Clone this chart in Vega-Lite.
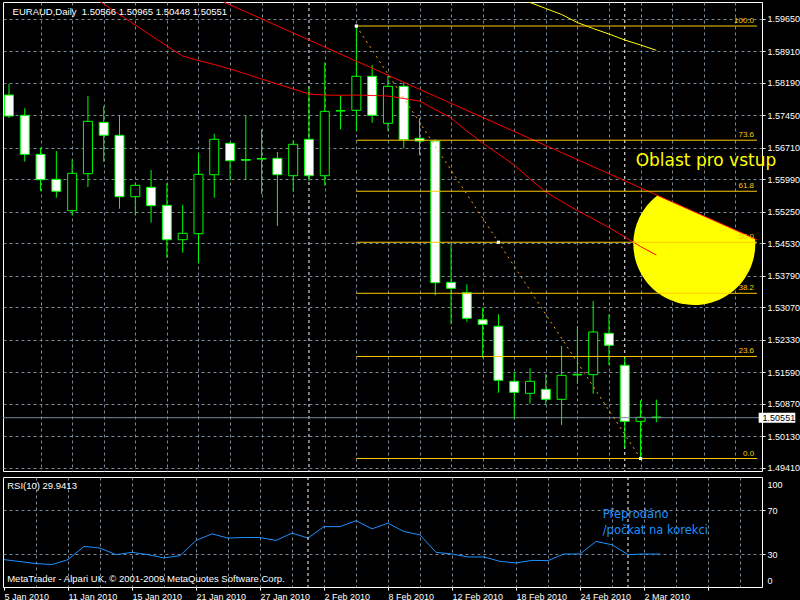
{
  "$schema": "https://vega.github.io/schema/vega-lite/v6.json",
  "background": "#000000",
  "padding": {"left": 2, "top": 1, "right": 0, "bottom": 0},
  "spacing": 2,
  "config": {
    "view": {"stroke": "#ffffff", "strokeWidth": 1},
    "axis": {"labelFont": "Liberation Sans", "labelFontSize": 9, "labelColor": "#ffffff", "tickColor": "#ffffff", "tickSize": 3, "gridColor": "#778899", "gridDash": [3, 3], "gridOpacity": 1, "domain": false, "labelOverlap": false, "labelBound": false, "tickCount": 100}
  },
  "resolve": {"scale": {"x": "independent", "y": "independent"}},
  "datasets": {
    "candles": [
      {"i": 0, "o": 1.57912, "h": 1.58163, "l": 1.57388, "c": 1.57433},
      {"i": 1, "o": 1.57449, "h": 1.57609, "l": 1.56391, "c": 1.56559},
      {"i": 2, "o": 1.56559, "h": 1.56710, "l": 1.55722, "c": 1.55980},
      {"i": 3, "o": 1.55989, "h": 1.56635, "l": 1.55569, "c": 1.55715},
      {"i": 4, "o": 1.55273, "h": 1.56445, "l": 1.55168, "c": 1.56126},
      {"i": 5, "o": 1.56117, "h": 1.57889, "l": 1.55813, "c": 1.57312},
      {"i": 6, "o": 1.57289, "h": 1.57661, "l": 1.56391, "c": 1.56993},
      {"i": 7, "o": 1.56993, "h": 1.57456, "l": 1.55318, "c": 1.55592},
      {"i": 8, "o": 1.55592, "h": 1.55912, "l": 1.55168, "c": 1.55852},
      {"i": 9, "o": 1.55807, "h": 1.56201, "l": 1.54999, "c": 1.55387},
      {"i": 10, "o": 1.55396, "h": 1.55898, "l": 1.54201, "c": 1.54611},
      {"i": 11, "o": 1.54611, "h": 1.55403, "l": 1.54315, "c": 1.54757},
      {"i": 12, "o": 1.54748, "h": 1.56582, "l": 1.54080, "c": 1.56103},
      {"i": 13, "o": 1.56094, "h": 1.57029, "l": 1.55569, "c": 1.56902},
      {"i": 14, "o": 1.56810, "h": 1.56840, "l": 1.55966, "c": 1.56413},
      {"i": 15, "o": 1.56440, "h": 1.57433, "l": 1.55980, "c": 1.56425},
      {"i": 16, "o": 1.56450, "h": 1.57130, "l": 1.55647, "c": 1.56465},
      {"i": 17, "o": 1.56468, "h": 1.56612, "l": 1.54924, "c": 1.56094},
      {"i": 18, "o": 1.56071, "h": 1.56879, "l": 1.55706, "c": 1.56788},
      {"i": 19, "o": 1.56902, "h": 1.58095, "l": 1.55950, "c": 1.56071},
      {"i": 20, "o": 1.56071, "h": 1.58649, "l": 1.55852, "c": 1.57540},
      {"i": 21, "o": 1.57545, "h": 1.57905, "l": 1.57130, "c": 1.57560},
      {"i": 22, "o": 1.57563, "h": 1.59486, "l": 1.57091, "c": 1.58339},
      {"i": 23, "o": 1.58339, "h": 1.58597, "l": 1.57280, "c": 1.57449},
      {"i": 24, "o": 1.57267, "h": 1.58346, "l": 1.57091, "c": 1.58111},
      {"i": 25, "o": 1.58111, "h": 1.58193, "l": 1.56696, "c": 1.56893},
      {"i": 26, "o": 1.56924, "h": 1.57381, "l": 1.56537, "c": 1.56863},
      {"i": 27, "o": 1.56863, "h": 1.56902, "l": 1.53343, "c": 1.53630},
      {"i": 28, "o": 1.53639, "h": 1.54506, "l": 1.52681, "c": 1.53503},
      {"i": 29, "o": 1.53402, "h": 1.53594, "l": 1.52741, "c": 1.52818},
      {"i": 30, "o": 1.52786, "h": 1.53060, "l": 1.51919, "c": 1.52681},
      {"i": 31, "o": 1.52636, "h": 1.52909, "l": 1.51121, "c": 1.51404},
      {"i": 32, "o": 1.51381, "h": 1.51593, "l": 1.50514, "c": 1.51130},
      {"i": 33, "o": 1.51107, "h": 1.51678, "l": 1.50870, "c": 1.51381},
      {"i": 34, "o": 1.51198, "h": 1.51541, "l": 1.50840, "c": 1.50970},
      {"i": 35, "o": 1.50970, "h": 1.52186, "l": 1.50384, "c": 1.51518},
      {"i": 36, "o": 1.51525, "h": 1.52643, "l": 1.51326, "c": 1.51540},
      {"i": 37, "o": 1.51532, "h": 1.53213, "l": 1.51098, "c": 1.52506},
      {"i": 38, "o": 1.52476, "h": 1.52909, "l": 1.51746, "c": 1.52202},
      {"i": 39, "o": 1.51746, "h": 1.51919, "l": 1.49866, "c": 1.50468},
      {"i": 40, "o": 1.50468, "h": 1.50948, "l": 1.49620, "c": 1.50560},
      {"i": 41, "o": 1.50566, "h": 1.50965, "l": 1.50448, "c": 1.50551}
    ],
    "ma": [
      {"i": 5, "p": 1.60228}, {"i": 6, "p": 1.59988}, {"i": 7, "p": 1.59749}, {"i": 8, "p": 1.59509},
      {"i": 9, "p": 1.59270}, {"i": 10, "p": 1.59030}, {"i": 11, "p": 1.58802}, {"i": 12, "p": 1.58699},
      {"i": 13, "p": 1.58608}, {"i": 14, "p": 1.58505}, {"i": 15, "p": 1.58396}, {"i": 16, "p": 1.58277},
      {"i": 17, "p": 1.58163}, {"i": 18, "p": 1.58049}, {"i": 19, "p": 1.57935}, {"i": 20, "p": 1.57912},
      {"i": 21, "p": 1.57905}, {"i": 22, "p": 1.57912}, {"i": 23, "p": 1.57901}, {"i": 24, "p": 1.57889},
      {"i": 25, "p": 1.57832}, {"i": 26, "p": 1.57775}, {"i": 27, "p": 1.57581}, {"i": 28, "p": 1.57388},
      {"i": 29, "p": 1.57091}, {"i": 30, "p": 1.56817}, {"i": 31, "p": 1.56566}, {"i": 32, "p": 1.56315},
      {"i": 33, "p": 1.55996}, {"i": 34, "p": 1.55699}, {"i": 35, "p": 1.55483}, {"i": 36, "p": 1.55277},
      {"i": 37, "p": 1.55083}, {"i": 38, "p": 1.54890}, {"i": 39, "p": 1.54673}, {"i": 40, "p": 1.54456},
      {"i": 41, "p": 1.54262}
    ],
    "trend": [{"i": 13, "p": 1.60131}, {"i": 47.375, "p": 1.54611}],
    "ma2": [
      {"i": 32, "p": 1.60159}, {"i": 33, "p": 1.60023}, {"i": 34, "p": 1.59886}, {"i": 35, "p": 1.59749},
      {"i": 36, "p": 1.59566}, {"i": 37, "p": 1.59429}, {"i": 38, "p": 1.59304}, {"i": 39, "p": 1.59167},
      {"i": 40, "p": 1.59053}, {"i": 41, "p": 1.58932}
    ],
    "fib": [
      {"lvl": "100.0", "p": 1.59486}, {"lvl": "73.6", "p": 1.56881}, {"lvl": "61.8", "p": 1.55717},
      {"lvl": "50.0", "p": 1.54553}, {"lvl": "38.2", "p": 1.53389}, {"lvl": "23.6", "p": 1.51948},
      {"lvl": "0.0", "p": 1.49620}
    ],
    "fibbase": [{"i": 22, "p": 1.59486}, {"i": 40, "p": 1.49620}],
    "fibpts": [{"i": 22, "p": 1.59486}, {"i": 31, "p": 1.54553}, {"i": 40, "p": 1.49620}],
    "seps": [{"i": 19}, {"i": 39}],
    "rsi": [
      {"i": 0, "r": 24.9}, {"i": 1, "r": 23.1}, {"i": 2, "r": 21.3}, {"i": 3, "r": 20.4}, {"i": 4, "r": 24.9},
      {"i": 5, "r": 36.9}, {"i": 6, "r": 35.4}, {"i": 7, "r": 29.4}, {"i": 8, "r": 31.5}, {"i": 9, "r": 29.4},
      {"i": 10, "r": 26.4}, {"i": 11, "r": 28.5}, {"i": 12, "r": 42.3}, {"i": 13, "r": 48.3}, {"i": 14, "r": 44.5},
      {"i": 15, "r": 45.0}, {"i": 16, "r": 45.0}, {"i": 17, "r": 42.3}, {"i": 18, "r": 49.0}, {"i": 19, "r": 44.5},
      {"i": 20, "r": 54.9}, {"i": 21, "r": 54.9}, {"i": 22, "r": 60.3}, {"i": 23, "r": 52.9}, {"i": 24, "r": 58.0},
      {"i": 25, "r": 50.4}, {"i": 26, "r": 47.4}, {"i": 27, "r": 31.5}, {"i": 28, "r": 30.0}, {"i": 29, "r": 27.3},
      {"i": 30, "r": 27.3}, {"i": 31, "r": 23.3}, {"i": 32, "r": 21.9}, {"i": 33, "r": 24.2}, {"i": 34, "r": 24.0},
      {"i": 35, "r": 30.0}, {"i": 36, "r": 30.0}, {"i": 37, "r": 41.4}, {"i": 38, "r": 38.4}, {"i": 39, "r": 29.4},
      {"i": 40, "r": 30.0}, {"i": 41, "r": 29.94}
    ]
  },
  "vconcat": [
    {
      "width": 759,
      "height": 469,
      "layer": [
        {
          "data": {"values": [{"i": 43.406, "p": 1.54513}]},
          "mark": {"type": "point", "shape": "M-0.6067,-0.795L0.9959,-0.0898A1,1,0,1,1,-0.6067,-0.795Z", "size": 14884, "filled": true, "fill": "#FFFF00", "strokeWidth": 0, "opacity": 1, "clip": true},
          "encoding": {
            "x": {"field": "i", "type": "quantitative", "scale": {"domain": [-0.0625, 47.375], "nice": false, "zero": false},
              "axis": {"values": [2,4,6,8,10,12,14,16,18,20,22,24,26,28,30,32,34,36,38,40,42,44,46], "tickCount": 100, "labels": false, "ticks": false, "grid": true, "domain": false, "title": null}},
            "y": {"field": "p", "type": "quantitative", "scale": {"domain": [1.49335, 1.60034], "nice": false, "zero": false},
              "axis": {"orient": "right", "values": [1.4941, 1.5013, 1.5087, 1.5159, 1.5233, 1.5307, 1.5379, 1.5453, 1.5525, 1.5599, 1.5671, 1.5745, 1.5819, 1.5891, 1.5965], "tickCount": 100, "format": ".5f", "title": null, "grid": true, "labelPadding": 2, "labelOverlap": false}}
          }
        },
        {
          "data": {"name": "seps"},
          "mark": {"type": "rule", "color": "#ffffff", "strokeDash": [3, 3], "strokeWidth": 1},
          "encoding": {"x": {"field": "i", "type": "quantitative", "scale": {"domain": [-0.0625, 47.375], "nice": false, "zero": false}}}
        },
        {
          "data": {"name": "candles"},
          "mark": {"type": "rule", "color": "#00FF00", "strokeWidth": 1, "clip": true},
          "encoding": {
            "x": {"field": "i", "type": "quantitative", "scale": {"domain": [-0.0625, 47.375], "nice": false, "zero": false}},
            "y": {"field": "l", "type": "quantitative", "scale": {"domain": [1.49335, 1.60034], "nice": false, "zero": false}},
            "y2": {"field": "h"}
          }
        },
        {
          "data": {"name": "candles"},
          "mark": {"type": "bar", "width": 9, "stroke": "#00FF00", "strokeWidth": 1, "clip": true},
          "encoding": {
            "x": {"field": "i", "type": "quantitative", "scale": {"domain": [-0.0625, 47.375], "nice": false, "zero": false}},
            "y": {"field": "o", "type": "quantitative", "scale": {"domain": [1.49335, 1.60034], "nice": false, "zero": false}},
            "y2": {"field": "c"},
            "fill": {"condition": {"test": "datum.c > datum.o", "value": "#000000"}, "value": "#ffffff"}
          }
        },
        {
          "data": {"values": [{"p": 1.50551}]},
          "mark": {"type": "rule", "color": "#778899", "strokeWidth": 1},
          "encoding": {"y": {"field": "p", "type": "quantitative", "scale": {"domain": [1.49335, 1.60034], "nice": false, "zero": false}}}
        },
        {
          "data": {"name": "ma"},
          "mark": {"type": "line", "color": "#FF0000", "strokeWidth": 1, "clip": true},
          "encoding": {
            "x": {"field": "i", "type": "quantitative", "scale": {"domain": [-0.0625, 47.375], "nice": false, "zero": false}},
            "y": {"field": "p", "type": "quantitative", "scale": {"domain": [1.49335, 1.60034], "nice": false, "zero": false}}
          }
        },
        {
          "data": {"name": "trend"},
          "mark": {"type": "line", "color": "#FF0000", "strokeWidth": 1, "clip": true},
          "encoding": {
            "x": {"field": "i", "type": "quantitative", "scale": {"domain": [-0.0625, 47.375], "nice": false, "zero": false}},
            "y": {"field": "p", "type": "quantitative", "scale": {"domain": [1.49335, 1.60034], "nice": false, "zero": false}}
          }
        },
        {
          "data": {"name": "ma2"},
          "mark": {"type": "line", "color": "#FFFF00", "strokeWidth": 1, "clip": true},
          "encoding": {
            "x": {"field": "i", "type": "quantitative", "scale": {"domain": [-0.0625, 47.375], "nice": false, "zero": false}},
            "y": {"field": "p", "type": "quantitative", "scale": {"domain": [1.49335, 1.60034], "nice": false, "zero": false}}
          }
        },
        {
          "data": {"name": "fib"},
          "mark": {"type": "rule", "color": "#FFC800", "strokeWidth": 1},
          "encoding": {
            "x": {"datum": 22, "type": "quantitative", "scale": {"domain": [-0.0625, 47.375], "nice": false, "zero": false}},
            "x2": {"datum": 47.375},
            "y": {"field": "p", "type": "quantitative", "scale": {"domain": [1.49335, 1.60034], "nice": false, "zero": false}}
          }
        },
        {
          "data": {"name": "fibbase"},
          "mark": {"type": "line", "color": "#FFA500", "strokeWidth": 1, "strokeDash": [2, 4]},
          "encoding": {
            "x": {"field": "i", "type": "quantitative", "scale": {"domain": [-0.0625, 47.375], "nice": false, "zero": false}},
            "y": {"field": "p", "type": "quantitative", "scale": {"domain": [1.49335, 1.60034], "nice": false, "zero": false}}
          }
        },
        {
          "data": {"name": "fib"},
          "mark": {"type": "text", "align": "right", "baseline": "alphabetic", "dy": -3, "font": "Liberation Sans", "fontSize": 8, "fill": "#FFC800"},
          "encoding": {
            "x": {"datum": 47.19, "type": "quantitative", "scale": {"domain": [-0.0625, 47.375], "nice": false, "zero": false}},
            "y": {"field": "p", "type": "quantitative", "scale": {"domain": [1.49335, 1.60034], "nice": false, "zero": false}},
            "text": {"field": "lvl"}
          }
        },
        {
          "data": {"name": "fibpts"},
          "mark": {"type": "point", "shape": "square", "size": 10, "filled": true, "fill": "#ffffff", "opacity": 1},
          "encoding": {
            "x": {"field": "i", "type": "quantitative", "scale": {"domain": [-0.0625, 47.375], "nice": false, "zero": false}},
            "y": {"field": "p", "type": "quantitative", "scale": {"domain": [1.49335, 1.60034], "nice": false, "zero": false}}
          }
        },
        {
          "data": {"values": [{"p": 1.50551}]},
          "mark": {"type": "rect", "fill": "#ffffff", "clip": false},
          "encoding": {
            "x": {"datum": 47.48, "type": "quantitative", "scale": {"domain": [-0.0625, 47.375], "nice": false, "zero": false}},
            "x2": {"datum": 49.8},
            "y": {"datum": 1.50665, "type": "quantitative", "scale": {"domain": [1.49335, 1.60034], "nice": false, "zero": false}},
            "y2": {"datum": 1.50437}
          }
        },
        {
          "data": {"values": [{"p": 1.50551, "t": "1.50551"}]},
          "mark": {"type": "text", "align": "left", "baseline": "middle", "font": "Liberation Sans", "fontSize": 9, "fill": "#000000"},
          "encoding": {
            "x": {"datum": 47.73, "type": "quantitative", "scale": {"domain": [-0.0625, 47.375], "nice": false, "zero": false}},
            "y": {"field": "p", "type": "quantitative", "scale": {"domain": [1.49335, 1.60034], "nice": false, "zero": false}},
            "text": {"field": "t"}
          }
        },
        {
          "data": {"values": [{"t": "EURAUD,Daily\u00a0\u00a01.50566 1.50965 1.50448 1.50551"}]},
          "mark": {"type": "text", "align": "left", "baseline": "middle", "font": "Liberation Sans", "fontSize": 9.5, "fill": "#ffffff"},
          "encoding": {
            "x": {"datum": 0.23, "type": "quantitative", "scale": {"domain": [-0.0625, 47.375], "nice": false, "zero": false}},
            "y": {"datum": 1.59812, "type": "quantitative", "scale": {"domain": [1.49335, 1.60034], "nice": false, "zero": false}},
            "text": {"field": "t"}
          }
        },
        {
          "data": {"values": [{"t": "Oblast pro vstup"}]},
          "mark": {"type": "text", "align": "left", "baseline": "alphabetic", "font": "DejaVu Sans", "fontSize": 17, "fill": "#FFFF00"},
          "encoding": {
            "x": {"datum": 39.69, "type": "quantitative", "scale": {"domain": [-0.0625, 47.375], "nice": false, "zero": false}},
            "y": {"datum": 1.56300, "type": "quantitative", "scale": {"domain": [1.49335, 1.60034], "nice": false, "zero": false}},
            "text": {"field": "t"}
          }
        }
      ]
    },
    {
      "width": 759,
      "height": 110,
      "layer": [
        {
          "data": {"name": "rsi"},
          "mark": {"type": "line", "color": "#1E90FF", "strokeWidth": 1, "clip": true},
          "encoding": {
            "x": {"field": "i", "type": "quantitative", "scale": {"domain": [-0.0625, 47.375], "nice": false, "zero": false},
              "axis": {"values": [0,2,4,6,8,10,12,14,16,18,20,22,24,26,28,30,32,34,36,38,40,42,44,46], "tickCount": 100, "title": null, "grid": true, "domain": false,
                "labelExpr": "['5 Jan 2010','11 Jan 2010','15 Jan 2010','21 Jan 2010','27 Jan 2010','2 Feb 2010','8 Feb 2010','12 Feb 2010','18 Feb 2010','24 Feb 2010','2 Mar 2010'][datum.value / 4] || ''",
                "labelAlign": "left", "labelPadding": 2, "labelFlush": false, "labelOverlap": false, "labelBound": false,
                "tickOpacity": {"condition": {"test": "datum.value % 4 === 0", "value": 1}, "value": 0},
                "gridOpacity": {"condition": {"test": "datum.value === 0", "value": 0}, "value": 1}}},
            "y": {"field": "r", "type": "quantitative", "scale": {"domain": [0, 100], "nice": false, "zero": false},
              "axis": {"orient": "right", "values": [0, 30, 70, 100], "tickCount": 100, "title": null, "grid": true, "labelPadding": 2, "labelOverlap": false, "labelFlush": false,
                "labelOffset": {"condition": [{"test": "datum.value === 100", "value": 7}, {"test": "datum.value === 0", "value": -7}], "value": 0},
                "tickOpacity": {"condition": {"test": "datum.value === 30 || datum.value === 70", "value": 1}, "value": 0},
                "gridOpacity": {"condition": {"test": "datum.value === 30 || datum.value === 70", "value": 1}, "value": 0}}}
          }
        },
        {
          "data": {"name": "seps"},
          "mark": {"type": "rule", "color": "#ffffff", "strokeDash": [3, 3], "strokeWidth": 1},
          "encoding": {"x": {"field": "i", "type": "quantitative", "scale": {"domain": [-0.0625, 47.375], "nice": false, "zero": false}}}
        },
        {
          "data": {"values": [{"t": "RSI(10) 29.9413", "r": 91.8}, {"t": "MetaTrader - Alpari UK, © 2001-2009 MetaQuotes Software Corp.", "r": 7}]},
          "mark": {"type": "text", "align": "left", "baseline": "middle", "font": "Liberation Sans", "fontSize": 9.5, "fill": "#ffffff"},
          "encoding": {
            "x": {"datum": 0.2, "type": "quantitative", "scale": {"domain": [-0.0625, 47.375], "nice": false, "zero": false}},
            "y": {"field": "r", "type": "quantitative", "scale": {"domain": [0, 100], "nice": false, "zero": false}},
            "text": {"field": "t"}
          }
        },
        {
          "data": {"values": [{"t": "Přeprodáno", "r": 65.5}, {"t": "/počkat na korekci", "r": 51.2}]},
          "mark": {"type": "text", "align": "left", "baseline": "middle", "font": "DejaVu Sans", "fontSize": 11.5, "fill": "#1E90FF"},
          "encoding": {
            "x": {"datum": 37.42, "type": "quantitative", "scale": {"domain": [-0.0625, 47.375], "nice": false, "zero": false}},
            "y": {"field": "r", "type": "quantitative", "scale": {"domain": [0, 100], "nice": false, "zero": false}},
            "text": {"field": "t"}
          }
        }
      ]
    }
  ]
}
